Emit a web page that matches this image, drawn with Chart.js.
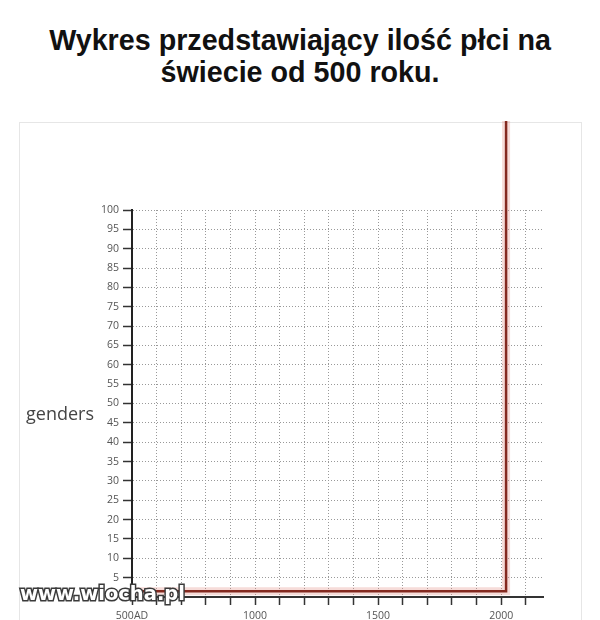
<!DOCTYPE html>
<html>
<head>
<meta charset="utf-8">
<script src="https://cdn.jsdelivr.net/npm/chart.js@4/dist/chart.umd.min.js"></script>
<style>
  body { margin: 0; background: #fff; width: 600px; height: 620px; overflow: hidden; position: relative; }
  #title { position: absolute; top: 24px; left: 0; width: 600px; text-align: center;
           font: bold 28.7px/32px "Liberation Sans", Arial, sans-serif; color: #111; }
  #frame { position: absolute; left: 19px; top: 122px; width: 561px; height: 520px; border: 1px solid #e6e6e6; }
  #wrap { position: absolute; left: 0; top: 0; width: 600px; height: 620px; }
  #mark { position: absolute; left: 20px; top: 584px; font: bold 19.5px/19.5px "DejaVu Sans", sans-serif;
          color: #fff; -webkit-text-stroke: 3px #3a3a3a; paint-order: stroke fill; white-space: nowrap; }
</style>
</head>
<body>
<div id="title">Wykres przedstawiający ilość płci na<br>świecie od 500 roku.</div>
<div id="frame"></div>
<div id="wrap"><canvas id="gendersChart"></canvas></div>
<div id="mark">www.wiocha.pl</div>
<script>
// dane wykresu
const years = [500, 2020, 2020];
const gendersCount = [1.5, 1.5, 123];
const labelYears = [500, 1000, 1500, 2000];
const labelTexts = ["500AD", "1000", "1500", "2000"];

const points = years.map((y, i) => ({ x: y, y: gendersCount[i] }));

// podpis osi Y poziomo, jak na obrazku
const axisTitle = {
    id: "axisTitle",
    afterDraw(chart) {
        const { ctx, chartArea } = chart;
        ctx.save();
        ctx.font = '18px "Open Sans"';
        ctx.fillStyle = "#444";
        ctx.textAlign = "center";
        ctx.textBaseline = "alphabetic";
        ctx.fillText("genders", chartArea.left - 72, chartArea.top + 210);
        ctx.restore();
    },
};

const tickFont = { family: "Open Sans", size: 10.5 };

new Chart(document.getElementById("gendersChart"), {
    type: "line",
    data: {
        datasets: [
            {
                data: points,
                borderColor: "#84291f",
                borderWidth: 2.5,
                pointRadius: 0,
                tension: 0,
                clip: false,
            },
            {
                data: points,
                borderColor: "rgba(225, 140, 130, 0.3)",
                borderWidth: 8,
                pointRadius: 0,
                tension: 0,
                clip: false,
            },
        ],
    },
    options: {
        responsive: true,
        maintainAspectRatio: false,
        animation: false,
        layout: { padding: { top: 210, right: 57, left: 0, bottom: 0 } },
        plugins: { legend: { display: false }, tooltip: { enabled: false } },
        scales: {
            x: {
                type: "linear",
                min: 500,
                max: 2170,
                afterFit: (s) => { s.height = 23; },
                ticks: {
                    stepSize: 100,
                    includeBounds: false,
                    autoSkip: false,
                    maxRotation: 0,
                    color: "#555",
                    font: tickFont,
                    padding: 5,
                    callback: (v) => {
                        const i = labelYears.indexOf(v);
                        return i >= 0 ? labelTexts[i] : "";
                    },
                },
                grid: {
                    color: "#999",
                    lineWidth: 1,
                    tickLength: 8,
                    tickColor: "#333",
                    tickWidth: 1.5,
                    tickBorderDash: [],
                },
                border: { color: "#333", width: 2, dash: [1, 2] },
            },
            y: {
                min: 0,
                max: 100,
                afterFit: (s) => { s.width = 132; },
                ticks: {
                    stepSize: 5,
                    color: "#555",
                    font: tickFont,
                    padding: 4,
                    callback: (v) => (v === 0 ? "" : v),
                },
                grid: {
                    color: "#999",
                    lineWidth: 1,
                    tickLength: 9,
                    tickColor: (c) => (c.tick && c.tick.value === 0 ? "rgba(0,0,0,0)" : "#333"),
                    tickWidth: 1.5,
                    tickBorderDash: [],
                },
                border: { color: "#222", width: 2, dash: [1, 2] },
            },
        },
    },
    plugins: [axisTitle],
});
</script>
</body>
</html>
